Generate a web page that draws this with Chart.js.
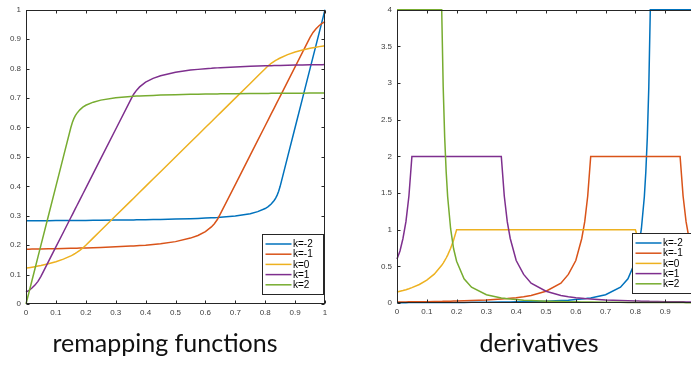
<!DOCTYPE html>
<html>
<head>
<meta charset="utf-8">
<script src="https://cdn.jsdelivr.net/npm/chart.js@4.4.1/dist/chart.umd.min.js"></script>
<style>
  html, body { margin: 0; padding: 0; background: #fff; }
  body { width: 691px; height: 367px; overflow: hidden; position: relative; }
  canvas { position: absolute; top: 0; }
  #cRemap { left: 0; }
  #cDeriv { left: 371px; }
  .caption {
    position: absolute; top: 330px; height: 26px; line-height: 25px;
    font-family: Lato, sans-serif; font-size: 25px; color: #111; text-align: center;
  }
</style>
</head>
<body>
<canvas id="cRemap" width="340" height="330"></canvas>
<canvas id="cDeriv" width="340" height="330"></canvas>
<div class="caption" style="left:0;width:330px">remapping functions</div>
<div class="caption" style="left:380px;width:318px">derivatives</div>
<script>
// sample positions (shared by every curve)
const xs = [0, 0.01, 0.02, 0.03, 0.04, 0.05, 0.075, 0.1, 0.125, 0.15,
  0.155, 0.16, 0.165, 0.17, 0.18, 0.19, 0.2, 0.225, 0.25, 0.3,
  0.35, 0.36, 0.37, 0.38, 0.4, 0.425, 0.45, 0.5, 0.55, 0.575,
  0.6, 0.62, 0.63, 0.64, 0.65, 0.7, 0.75, 0.775, 0.8, 0.81,
  0.82, 0.83, 0.835, 0.84, 0.845, 0.85, 0.875, 0.9, 0.925, 0.95,
  0.96, 0.97, 0.98, 0.99, 1];

const seriesLabels = ["k=-2", "k=-1", "k=0", "k=1", "k=2"];

// remapping functions
const remapKm2 = [0.2827, 0.2828, 0.2829, 0.283, 0.283, 0.2832, 0.2833, 0.2835, 0.2836, 0.2838,
  0.2838, 0.2839, 0.2839, 0.284, 0.284, 0.2841, 0.2842, 0.2844, 0.2846, 0.2851,
  0.2857, 0.2858, 0.286, 0.2861, 0.2864, 0.2869, 0.2873, 0.2885, 0.29, 0.291,
  0.292, 0.293, 0.2934, 0.294, 0.295, 0.299, 0.307, 0.314, 0.3245, 0.331,
  0.34, 0.352, 0.36, 0.37, 0.383, 0.4, 0.5, 0.6, 0.7, 0.8,
  0.84, 0.88, 0.92, 0.96, 1.0];
const remapKm1 = [0.1863, 0.1865, 0.1866, 0.1868, 0.187, 0.1871, 0.1876, 0.188, 0.1886, 0.1892,
  0.1893, 0.1894, 0.1896, 0.1897, 0.19, 0.1902, 0.1906, 0.1913, 0.1922, 0.1942,
  0.1969, 0.1974, 0.1981, 0.199, 0.2, 0.2025, 0.205, 0.212, 0.224, 0.233,
  0.246, 0.262, 0.273, 0.287, 0.306, 0.406, 0.506, 0.556, 0.606, 0.626,
  0.646, 0.666, 0.676, 0.686, 0.696, 0.706, 0.756, 0.806, 0.856, 0.906,
  0.923, 0.9358, 0.9457, 0.9536, 0.96];
const remapK0 = [0.122, 0.1236, 0.1252, 0.127, 0.1289, 0.1309, 0.1366, 0.1437, 0.1524, 0.1637,
  0.1663, 0.1691, 0.1721, 0.1753, 0.1823, 0.1903, 0.1997, 0.2247, 0.2497, 0.2997,
  0.3497, 0.3597, 0.3697, 0.3797, 0.3997, 0.4247, 0.4497, 0.4997, 0.5497, 0.5747,
  0.5997, 0.6197, 0.6297, 0.6397, 0.6497, 0.6997, 0.7497, 0.7747, 0.7997, 0.8097,
  0.8177, 0.8247, 0.8279, 0.8309, 0.8337, 0.8363, 0.8476, 0.8563, 0.8634, 0.8691,
  0.8711, 0.873, 0.8748, 0.8764, 0.878];
const remapK1 = [0.04, 0.0464, 0.0543, 0.0642, 0.077, 0.094, 0.144, 0.194, 0.244, 0.294,
  0.304, 0.314, 0.324, 0.334, 0.354, 0.374, 0.394, 0.444, 0.494, 0.594,
  0.694, 0.713, 0.727, 0.738, 0.754, 0.767, 0.776, 0.788, 0.795, 0.7975,
  0.8, 0.801, 0.8019, 0.8026, 0.8031, 0.8058, 0.8078, 0.8087, 0.8094, 0.8098,
  0.81, 0.8103, 0.8104, 0.8106, 0.8107, 0.8108, 0.8114, 0.812, 0.8124, 0.8129,
  0.813, 0.8132, 0.8134, 0.8135, 0.8137];
const remapK2 = [0, 0.04, 0.08, 0.12, 0.16, 0.2, 0.3, 0.4, 0.5, 0.6,
  0.617, 0.63, 0.64, 0.648, 0.66, 0.669, 0.6755, 0.686, 0.693, 0.701,
  0.705, 0.706, 0.7066, 0.707, 0.708, 0.709, 0.71, 0.7115, 0.7127, 0.7131,
  0.7136, 0.7139, 0.714, 0.7142, 0.7143, 0.7149, 0.7154, 0.7156, 0.7158, 0.7159,
  0.716, 0.716, 0.7161, 0.7162, 0.7162, 0.7163, 0.7165, 0.7165, 0.7167, 0.7168,
  0.717, 0.717, 0.7171, 0.7172, 0.7173];

// derivatives
const derivKm2 = [0.0047, 0.0048, 0.0049, 0.005, 0.0052, 0.0053, 0.0056, 0.006, 0.0065, 0.007,
  0.007, 0.0071, 0.0072, 0.0073, 0.0075, 0.0077, 0.0079, 0.0085, 0.0092, 0.011,
  0.013, 0.0136, 0.014, 0.015, 0.016, 0.018, 0.02, 0.025, 0.034, 0.039,
  0.047, 0.054, 0.059, 0.064, 0.069, 0.113, 0.216, 0.33, 0.57, 0.74,
  1.01, 1.45, 1.79, 2.26, 2.95, 4, 4, 4, 4, 4,
  4, 4, 4, 4, 4];
const derivKm1 = [0.0138, 0.0142, 0.0146, 0.015, 0.0155, 0.016, 0.0172, 0.0187, 0.02, 0.022,
  0.0227, 0.023, 0.0235, 0.024, 0.025, 0.026, 0.027, 0.03, 0.033, 0.041,
  0.054, 0.057, 0.06, 0.064, 0.072, 0.086, 0.103, 0.16, 0.27, 0.39,
  0.58, 0.88, 1.11, 1.46, 2, 2, 2, 2, 2, 2,
  2, 2, 2, 2, 2, 2, 2, 2, 2, 2,
  1.46, 1.11, 0.88, 0.71, 0.6];
const derivK0 = [0.15, 0.16, 0.17, 0.182, 0.195, 0.21, 0.253, 0.312, 0.394, 0.514,
  0.544, 0.577, 0.614, 0.654, 0.746, 0.859, 1, 1, 1, 1,
  1, 1, 1, 1, 1, 1, 1, 1, 1, 1,
  1, 1, 1, 1, 1, 1, 1, 1, 1, 0.859,
  0.746, 0.654, 0.614, 0.577, 0.544, 0.514, 0.394, 0.312, 0.253, 0.21,
  0.195, 0.182, 0.17, 0.16, 0.15];
const derivK1 = [0.6, 0.71, 0.88, 1.11, 1.46, 2, 2, 2, 2, 2,
  2, 2, 2, 2, 2, 2, 2, 2, 2, 2,
  2, 1.46, 1.11, 0.88, 0.58, 0.39, 0.27, 0.16, 0.103, 0.086,
  0.072, 0.064, 0.06, 0.057, 0.054, 0.041, 0.033, 0.03, 0.027, 0.026,
  0.025, 0.024, 0.0235, 0.023, 0.0227, 0.022, 0.02, 0.0187, 0.0172, 0.016,
  0.0155, 0.015, 0.0146, 0.0142, 0.0138];
const derivK2 = [4, 4, 4, 4, 4, 4, 4, 4, 4, 4,
  2.95, 2.26, 1.79, 1.45, 1.01, 0.74, 0.57, 0.33, 0.216, 0.113,
  0.069, 0.064, 0.059, 0.054, 0.047, 0.039, 0.034, 0.025, 0.02, 0.018,
  0.016, 0.015, 0.014, 0.0136, 0.013, 0.011, 0.0092, 0.0085, 0.0079, 0.0077,
  0.0075, 0.0073, 0.0072, 0.0071, 0.007, 0.007, 0.0065, 0.006, 0.0056, 0.0053,
  0.0052, 0.005, 0.0049, 0.0048, 0.0047];

// tick labels
const xTicks = [0, 0.1, 0.2, 0.3, 0.4, 0.5, 0.6, 0.7, 0.8, 0.9, 1];
const remapYTicks = [0, 0.1, 0.2, 0.3, 0.4, 0.5, 0.6, 0.7, 0.8, 0.9, 1];
const derivYTicks = [0, 0.5, 1, 1.5, 2, 2.5, 3, 3.5, 4];

// matlab default line colours
const colors = ["#0072BD", "#D95319", "#EDB120", "#7E2F8E", "#77AC30"];
const axisColor = "#262626";

function makeDatasets(seriesList) {
  return seriesList.map((vals, i) => ({
    label: seriesLabels[i],
    data: xs.map((x, j) => ({ x: x, y: vals[j] })),
    borderColor: colors[i],
    backgroundColor: colors[i],
    borderWidth: 1.5,
    pointRadius: 0,
    tension: 0,
    clip: false,
    order: seriesList.length - 1 - i, // last series on top, like matlab
  }));
}

// box with inward ticks on all four sides + legend
const boxPlugin = {
  id: "matlabBox",
  afterDatasetsDraw(chart) {
    const { ctx, chartArea: a, scales } = chart;
    const L = Math.round(a.left) + 0.5, R = Math.round(a.right) - 0.5;
    const T = Math.round(a.top) + 0.5, B = Math.round(a.bottom) - 0.5;
    ctx.save();
    ctx.strokeStyle = axisColor;
    ctx.lineWidth = 1;
    ctx.strokeRect(L, T, R - L, B - T);
    ctx.beginPath();
    scales.x.ticks.forEach((t) => {
      const px = Math.round(scales.x.getPixelForValue(t.value)) + 0.5;
      ctx.moveTo(px, B); ctx.lineTo(px, B - 3);
      ctx.moveTo(px, T); ctx.lineTo(px, T + 3);
    });
    scales.y.ticks.forEach((t) => {
      const py = Math.round(scales.y.getPixelForValue(t.value)) + 0.5;
      ctx.moveTo(L, py); ctx.lineTo(L + 3, py);
      ctx.moveTo(R, py); ctx.lineTo(R - 3, py);
    });
    ctx.stroke();
    ctx.restore();
  },
  afterDraw(chart) {
    const { ctx, chartArea: a } = chart;
    const left = Math.round(a.right) - 62.5, top = Math.round(a.bottom) - 69.5;
    const w = 61, h = 60;
    ctx.save();
    ctx.fillStyle = "#fff";
    ctx.fillRect(left, top, w, h);
    ctx.strokeStyle = axisColor;
    ctx.lineWidth = 1;
    ctx.strokeRect(left, top, w, h);
    ctx.font = "10px 'Liberation Sans', Arial, sans-serif";
    ctx.textBaseline = "middle";
    chart.data.datasets.forEach((ds, i) => {
      const y = top + 9.5 + i * 10.2;
      ctx.strokeStyle = ds.borderColor;
      ctx.lineWidth = 1.5;
      ctx.beginPath();
      ctx.moveTo(left + 3, y);
      ctx.lineTo(left + 29, y);
      ctx.stroke();
      ctx.fillStyle = "#000";
      ctx.fillText(ds.label, left + 30.5, y + 0.5);
    });
    ctx.restore();
  },
};

function fmt(v) {
  return String(+Number(v).toFixed(2));
}

function makeChart(canvasId, datasets, yMax, yTicks, pad, xHeight) {
  const ctx = document.getElementById(canvasId).getContext("2d");
  return new Chart(ctx, {
    type: "line",
    data: { datasets: datasets },
    options: {
      responsive: false,
      animation: false,
      devicePixelRatio: 1,
      layout: { padding: pad },
      plugins: { legend: { display: false }, tooltip: { enabled: false } },
      scales: {
        x: {
          type: "linear",
          min: 0,
          max: 1,
          afterBuildTicks: (scale) => { scale.ticks = xTicks.map((v) => ({ value: v })); },
          afterFit: (scale) => { scale.height = xHeight; },
          grid: { display: false, drawTicks: false },
          border: { display: false },
          ticks: {
            padding: 4,
            maxRotation: 0,
            autoSkip: false,
            color: "#404040",
            font: { family: "'Liberation Sans', Arial, sans-serif", size: 8 },
            callback: fmt,
          },
        },
        y: {
          type: "linear",
          min: 0,
          max: yMax,
          afterBuildTicks: (scale) => { scale.ticks = yTicks.map((v) => ({ value: v })); },
          afterFit: (scale) => { scale.width = 26; },
          grid: { display: false, drawTicks: false },
          border: { display: false },
          ticks: {
            padding: 5,
            autoSkip: false,
            color: "#404040",
            font: { family: "'Liberation Sans', Arial, sans-serif", size: 8 },
            callback: fmt,
          },
        },
      },
    },
    plugins: [boxPlugin],
  });
}

const chartRemap = makeChart("cRemap",
  makeDatasets([remapKm2, remapKm1, remapK0, remapK1, remapK2]),
  1, remapYTicks, { top: 5, right: 15, left: 0, bottom: 0 }, 26);

const chartDeriv = makeChart("cDeriv",
  makeDatasets([derivKm2, derivKm1, derivK0, derivK1, derivK2]),
  4, derivYTicks, { top: 5, right: 16, left: 0, bottom: 0 }, 27);
</script>
</body>
</html>
